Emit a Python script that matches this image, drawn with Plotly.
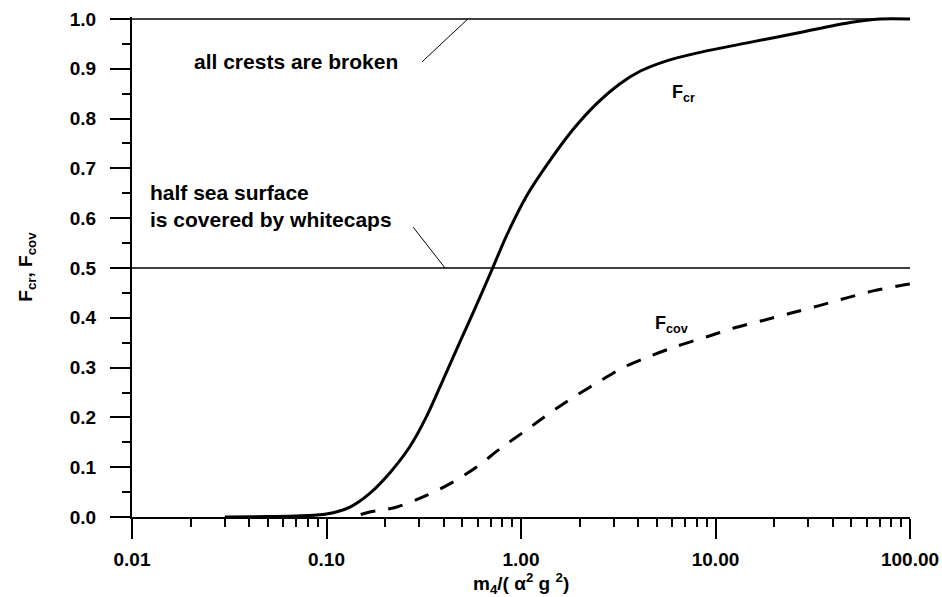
import plotly.graph_objects as go

# ---- data ----
fcr_x = [0.03, 0.05, 0.07, 0.1, 0.132, 0.1675, 0.212, 0.268, 0.327, 0.398, 0.486,
         0.591, 0.706, 0.843, 1.07, 1.41, 1.86, 2.45, 3.23, 4.09, 5.61, 8.32,
         15.0, 27.2, 49.2, 70.0, 100.0]
fcr_y = [0.0, 0.001, 0.002, 0.006, 0.02, 0.048, 0.089, 0.141, 0.202, 0.276, 0.352,
         0.426, 0.495, 0.565, 0.645, 0.716, 0.779, 0.830, 0.870, 0.895, 0.916, 0.933,
         0.953, 0.973, 0.993, 1.0, 1.0]

fcov_x = [0.15, 0.167, 0.23, 0.329, 0.447, 0.594, 0.78, 1.07, 1.41, 1.85, 2.55,
          3.34, 4.6, 6.34, 9.04, 12.3, 17.3, 24.2, 33.8, 47.3, 64.7, 92.5, 100.0]
fcov_y = [0.005, 0.010, 0.020, 0.044, 0.070, 0.101, 0.137, 0.175, 0.209, 0.240, 0.273,
          0.300, 0.323, 0.343, 0.362, 0.379, 0.394, 0.409, 0.424, 0.440, 0.454, 0.466, 0.468]

ref_levels = [1.0, 0.5]
x_tickvals = [0.01, 0.1, 1, 10, 100]
x_ticktext = ["0.01", "0.10", "1.00", "10.00", "100.00"]
y_tickvals = [i / 10 for i in range(11)]
y_ticktext = [f"{v:.1f}" for v in y_tickvals]

FONT = "Liberation Sans, Arial, sans-serif"

fig = go.Figure()
fig.add_trace(go.Scatter(x=fcr_x, y=fcr_y, mode="lines", line=dict(color="black", width=3, shape="spline", smoothing=0.8),
                         showlegend=False, hoverinfo="skip"))
fig.add_trace(go.Scatter(x=fcov_x, y=fcov_y, mode="lines", line=dict(color="black", width=3, dash="15px,13px", shape="spline", smoothing=0.8),
                         showlegend=False, hoverinfo="skip"))

# horizontal reference lines
for lv in ref_levels:
    fig.add_shape(type="line", xref="x", yref="y", x0=0.01, x1=100, y0=lv, y1=lv,
                  line=dict(color="black", width=1.3), layer="below")

# leader lines
fig.add_shape(type="line", xref="x", yref="y", x0=0.31, y0=0.914, x1=0.533, y1=1.0,
              line=dict(color="black", width=1))
fig.add_shape(type="line", xref="x", yref="y", x0=0.279, y0=0.582, x1=0.407, y1=0.5,
              line=dict(color="black", width=1))

ann_font = dict(family=FONT, size=21, color="black", weight="bold")
fig.add_annotation(x=-1.691, y=0.914, xref="x", yref="y", text="all crests are broken",
                   showarrow=False, xanchor="left", yanchor="middle", font=ann_font)
fig.add_annotation(x=-1.918, y=0.6245, xref="x", yref="y",
                   text="half sea surface<br>is covered by whitecaps",
                   showarrow=False, xanchor="left", yanchor="middle", align="left", font=ann_font)
lab_font = dict(family=FONT, size=18, color="black", weight="bold")
fig.add_annotation(x=0.766, y=0.878, xref="x", yref="y", text="F<sub>cr</sub>",
                   showarrow=False, xanchor="left", yanchor="top", font=lab_font)
fig.add_annotation(x=0.679, y=0.414, xref="x", yref="y", text="F<sub>cov</sub>",
                   showarrow=False, xanchor="left", yanchor="top", font=lab_font)

# x-axis title as annotation (positioned below tick labels)
fig.add_annotation(x=0.5, y=-0.133, xref="paper", yref="paper",
                   text="m<sub>4</sub>/( α<sup>2</sup> g <sup>2</sup>)", showarrow=False,
                   xanchor="center", yanchor="middle",
                   font=dict(family=FONT, size=19, color="black", weight="bold"))

tick_font = dict(family=FONT, size=19, color="black", weight="bold")
fig.update_xaxes(type="log", range=[-2, 2], showline=True, linecolor="black", linewidth=2,
                 showgrid=False, zeroline=False, ticks="outside", ticklen=20, tickwidth=1.5,
                 tickcolor="black", tickvals=x_tickvals, ticktext=x_ticktext,
                 tickfont=tick_font, ticklabelstandoff=4, automargin=False,
                 minor=dict(ticks="outside", ticklen=8, tickwidth=1.5, tickcolor="black",
                            dtick="D1", showgrid=False))
fig.update_yaxes(range=[0, 1.004], showline=True, linecolor="black", linewidth=2,
                 showgrid=False, zeroline=False, ticks="outside", ticklen=20, tickwidth=1.5,
                 tickcolor="black", tickvals=y_tickvals, ticktext=y_ticktext,
                 tickfont=tick_font, ticklabelstandoff=10, automargin=False,
                 minor=dict(ticks="outside", ticklen=8, tickwidth=1.5, tickcolor="black",
                            dtick=0.05, showgrid=False),
                 title=dict(text="F<sub>cr</sub>, F<sub>cov</sub>",
                            font=dict(family=FONT, size=19, color="black", weight="bold"),
                            standoff=32))

fig.update_layout(width=942, height=597, margin=dict(l=132, r=32, t=17, b=80),
                  plot_bgcolor="white", paper_bgcolor="white", showlegend=False)

fig.write_html("out.html")
